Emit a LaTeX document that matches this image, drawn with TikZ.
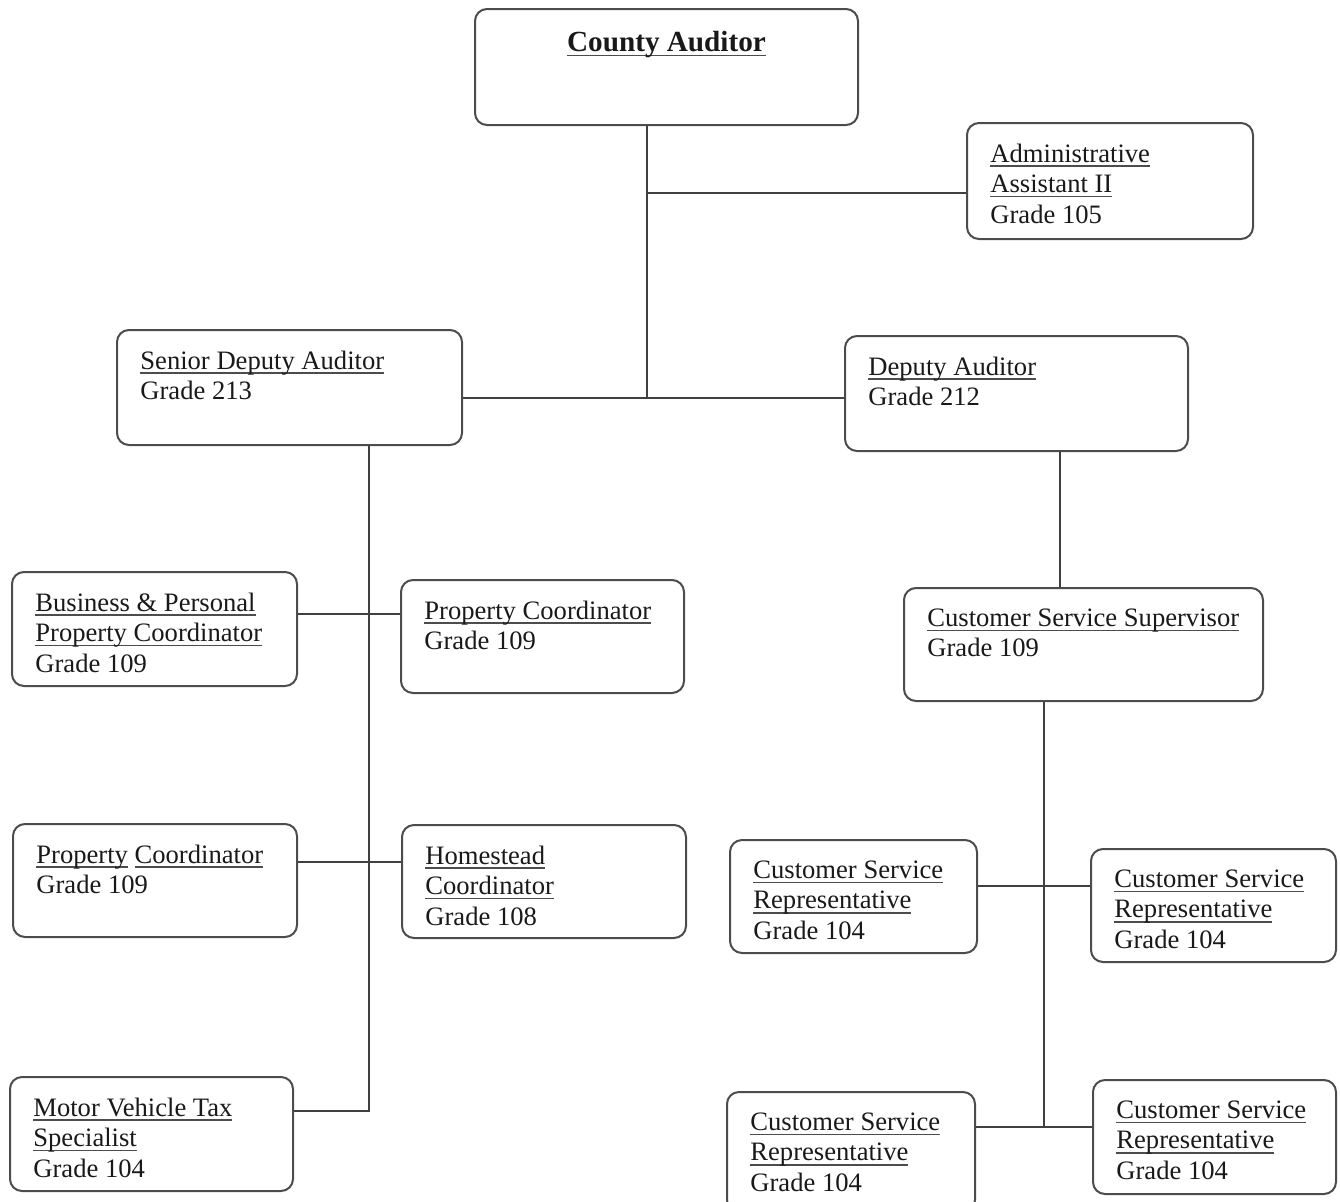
\documentclass[tikz,border=0pt]{standalone}
\usepackage{fontspec}
\setmainfont{Liberation Serif}
\usepackage{xcolor}
\usepackage{tikz}
\usetikzlibrary{positioning,calc,fit}
\newsavebox{\ulnbox}
\newcommand{\uln}[1]{\sbox{\ulnbox}{#1}\rlap{\color{black!70}\rule[-2.4pt]{\wd\ulnbox}{0.7pt}}\usebox{\ulnbox}}

\tikzset{
  post/.style={draw=black!70, line width=1pt, rounded corners=6pt, inner sep=0pt, fit={#1}},
  txt/.style={anchor=north west, inner sep=0pt, align=left, xshift=12pt, yshift=-10.6pt,
    font=\fontsize{13.3}{15.3}\selectfont, text=black!90},
  title/.style={anchor=north, inner sep=0pt, yshift=-11.5pt,
    font=\fontsize{14.6}{17}\selectfont\bfseries, text=black!90},
  link/.style={draw=black!75, line width=0.7pt}
}

\begin{document}
\begin{tikzpicture}[x=0.5pt,y=-0.5pt]
    \useasboundingbox (0,0) rectangle (1340,1201);
    \node[post={(475,9) (858,125)}] (ca) {};
    \node[post={(967,123) (1253,239)}] (aa) {};
    \node[post={(117,330) (462,445)}] (sda) {};
    \node[post={(845,336) (1188,451)}] (da) {};
    \node[post={(12,572) (297,686)}] (bpp) {};
    \node[post={(401,580) (684,693)}] (pcA) {};
    \node[post={(904,588) (1263,701)}] (css) {};
    \node[post={(13,824) (297,937)}] (pcB) {};
    \node[post={(402,825) (686,938)}] (hc) {};
    \node[post={(10,1077) (293,1191)}] (mvt) {};
    \node[post={(730,840) (977,953)}] (csrA) {};
    \node[post={(1091,849) (1336,962)}] (csrB) {};
    \node[post={(727,1092) (975,1212)}] (csrC) {};
    \node[post={(1093,1080) (1336,1194)}] (csrD) {};

    \node[title] (caT) at (ca.north) {\uln{County Auditor}};
    \node[txt] (aaT) at (aa.north west) {\uln{Administrative}\\\uln{Assistant II}\\Grade 105};
    \node[txt] (sdaT) at (sda.north west) {\uln{Senior Deputy Auditor}\\Grade 213};
    \node[txt] (daT) at (da.north west) {\uln{Deputy Auditor}\\Grade 212};
    \node[txt] (bppT) at (bpp.north west) {\uln{Business \& Personal}\\\uln{Property Coordinator}\\Grade 109};
    \node[txt] (pcAT) at (pcA.north west) {\uln{Property Coordinator}\\Grade 109};
    \node[txt] (cssT) at (css.north west) {\uln{Customer Service Supervisor}\\Grade 109};
    \node[txt] (pcBT) at (pcB.north west) {\uln{Property} \uln{Coordinator}\\Grade 109};
    \node[txt] (hcT) at (hc.north west) {\uln{Homestead}\\\uln{Coordinator}\\Grade 108};
    \node[txt] (mvtT) at (mvt.north west) {\uln{Motor Vehicle Tax}\\\uln{Specialist}\\Grade 104};
    \node[txt] (csrAT) at (csrA.north west) {\uln{Customer Service}\\\uln{Representative}\\Grade 104};
    \node[txt] (csrBT) at (csrB.north west) {\uln{Customer Service}\\\uln{Representative}\\Grade 104};
    \node[txt] (csrCT) at (csrC.north west) {\uln{Customer Service}\\\uln{Representative}\\Grade 104};
    \node[txt] (csrDT) at (csrD.north west) {\uln{Customer Service}\\\uln{Representative}\\Grade 104};

    \coordinate (j1) at (647,193);
    \coordinate (j2) at (647,398);
    \coordinate (s1) at (369,614);
    \coordinate (s2) at (369,862);
    \coordinate (s3) at (369,1111);
    \coordinate (d1) at (1060,520);
    \coordinate (c1) at (1044,886);
    \coordinate (c2) at (1044,1127);

    \draw[link] (ca.south -| j1) -- (j2);
    \draw[link] (j1) -- (aa.west |- j1);
    \draw[link] (sda.east |- j2) -- (da.west |- j2);
    \draw[link] (sda.south -| s1) -- (s3) -- (mvt.east |- s3);
    \draw[link] (bpp.east |- s1) -- (pcA.west |- s1);
    \draw[link] (pcB.east |- s2) -- (hc.west |- s2);
    \draw[link] (da.south -| d1) -- (css.north -| d1);
    \draw[link] (css.south -| c1) -- (c2);
    \draw[link] (csrA.east |- c1) -- (csrB.west |- c1);
    \draw[link] (csrC.east |- c2) -- (csrD.west |- c2);
\end{tikzpicture}
\end{document}
